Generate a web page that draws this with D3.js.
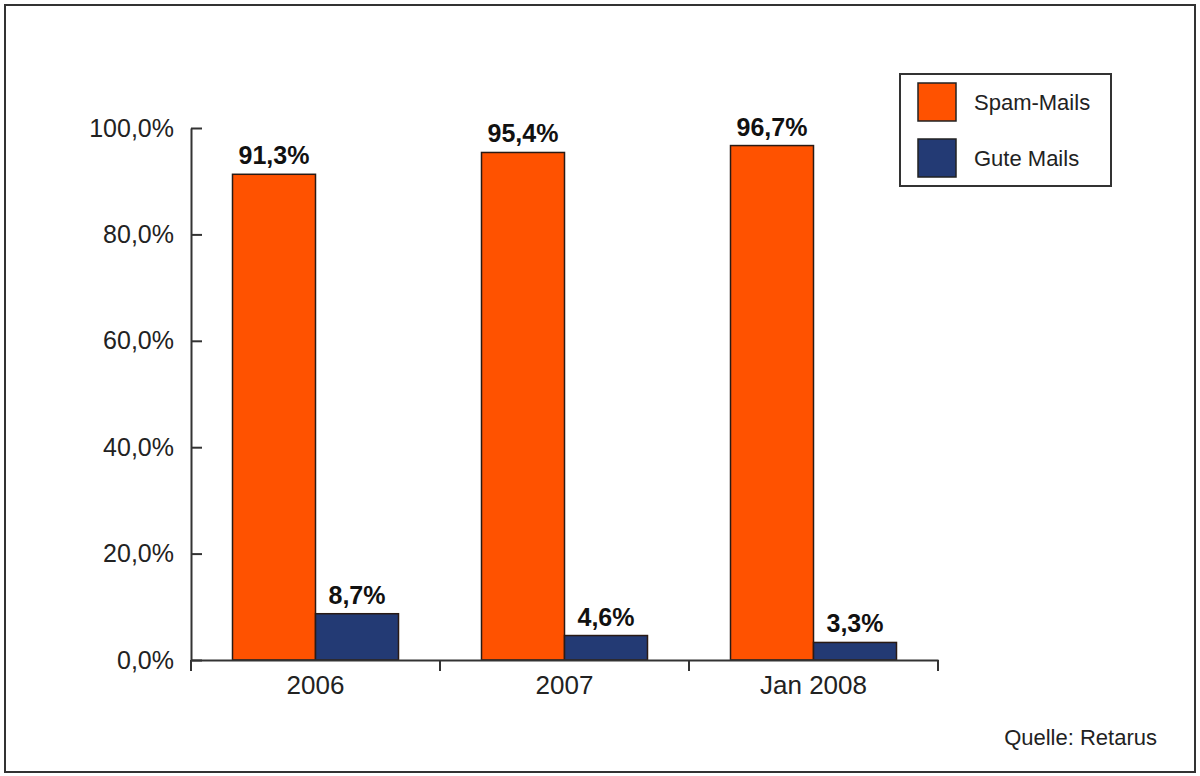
<!DOCTYPE html>
<html>
<head>
<meta charset="utf-8">
<script src="https://cdn.jsdelivr.net/npm/d3@7"></script>
<style>
  html, body { margin: 0; padding: 0; background: #fff; }
  svg { display: block; font-family: "Liberation Sans", Arial, Helvetica, sans-serif; }
</style>
</head>
<body>
<svg id="chart" width="1200" height="776"></svg>
<script>
const categories = ["2006", "2007", "Jan 2008"];
const seriesNames = ["Spam-Mails", "Gute Mails"];
const spamValues = [91.3, 95.4, 96.7];
const goodValues = [8.7, 4.6, 3.3];
const yTicks = [0, 20, 40, 60, 80, 100];
const sourceText = "Quelle: Retarus";

const colors = { "Spam-Mails": "#ff5200", "Gute Mails": "#233a74" };
const fmt = v => v.toFixed(1).replace(".", ",") + "%";

const svg = d3.select("#chart");

// outer frame
svg.append("rect")
  .attr("x", 5).attr("y", 5).attr("width", 1190).attr("height", 767)
  .attr("fill", "#fff").attr("stroke", "#333").attr("stroke-width", 2);

const plotLeft = 191, plotRight = 938, plotTop = 128, plotBottom = 660;

const x = d3.scaleBand().domain(categories).range([plotLeft, plotRight]).padding(0);
const xSub = d3.scaleBand().domain(seriesNames).range([0, x.bandwidth()]).paddingInner(0).paddingOuter(0.5);
const y = d3.scaleLinear().domain([0, 100]).range([plotBottom, plotTop]);

const data = categories.map((c, i) => ({
  cat: c,
  values: [
    { s: "Spam-Mails", v: spamValues[i] },
    { s: "Gute Mails", v: goodValues[i] }
  ]
}));

// bars
const groups = svg.append("g").selectAll("g").data(data).join("g")
  .attr("transform", d => `translate(${x(d.cat)},0)`);

groups.selectAll("rect").data(d => d.values).join("rect")
  .attr("x", d => xSub(d.s))
  .attr("y", d => y(d.v))
  .attr("width", xSub.bandwidth())
  .attr("height", d => y(0) - y(d.v))
  .attr("fill", d => colors[d.s])
  .attr("stroke", "#2a1a14")
  .attr("stroke-width", 1.5);

groups.selectAll("text").data(d => d.values).join("text")
  .attr("x", d => xSub(d.s) + xSub.bandwidth() / 2)
  .attr("y", d => y(d.v) - 10)
  .attr("text-anchor", "middle")
  .attr("font-weight", "bold")
  .attr("font-size", 25)
  .attr("fill", "#111")
  .text(d => fmt(d.v));

// y axis
const yAxis = d3.axisLeft(y).tickValues(yTicks).tickFormat(fmt)
  .tickSizeInner(-11).tickSizeOuter(0).tickPadding(17);
const gy = svg.append("g").attr("transform", `translate(${plotLeft},0)`).call(yAxis);
gy.select(".domain").attr("stroke", "#333").attr("stroke-width", 2);
gy.selectAll(".tick line").attr("stroke", "#333").attr("stroke-width", 2);
gy.selectAll(".tick text").attr("font-size", 25).attr("fill", "#222")
  .attr("font-family", "Liberation Sans, Arial, sans-serif");

// x axis
const xAxis = d3.axisBottom(x).tickSize(0).tickPadding(16);
const gx = svg.append("g").attr("transform", `translate(0,${plotBottom})`).call(xAxis);
gx.select(".domain").attr("stroke", "#333").attr("stroke-width", 2);
gx.selectAll(".tick text").attr("font-size", 26).attr("fill", "#222")
  .attr("font-family", "Liberation Sans, Arial, sans-serif");

// boundary ticks on x axis
const boundaries = categories.map(c => x(c)).concat([x(categories[categories.length - 1]) + x.bandwidth()]);
svg.append("g").selectAll("line").data(boundaries).join("line")
  .attr("x1", d => d).attr("x2", d => d)
  .attr("y1", plotBottom).attr("y2", plotBottom + 11)
  .attr("stroke", "#333").attr("stroke-width", 2);

// legend
const legend = svg.append("g");
legend.append("rect")
  .attr("x", 900).attr("y", 74).attr("width", 211).attr("height", 112)
  .attr("fill", "#fff").attr("stroke", "#333").attr("stroke-width", 2);
const li = legend.selectAll("g.item").data(seriesNames).join("g")
  .attr("class", "item")
  .attr("transform", (d, i) => `translate(918,${83 + i * 56})`);
li.append("rect").attr("width", 38).attr("height", 38)
  .attr("fill", d => colors[d]).attr("stroke", "#222").attr("stroke-width", 1.5);
li.append("text").attr("x", 56).attr("y", 27)
  .attr("font-size", 22).attr("fill", "#222").text(d => d);

// source
svg.append("text")
  .attr("x", 1157).attr("y", 745).attr("text-anchor", "end")
  .attr("font-size", 22).attr("fill", "#222").text(sourceText);
</script>
</body>
</html>
